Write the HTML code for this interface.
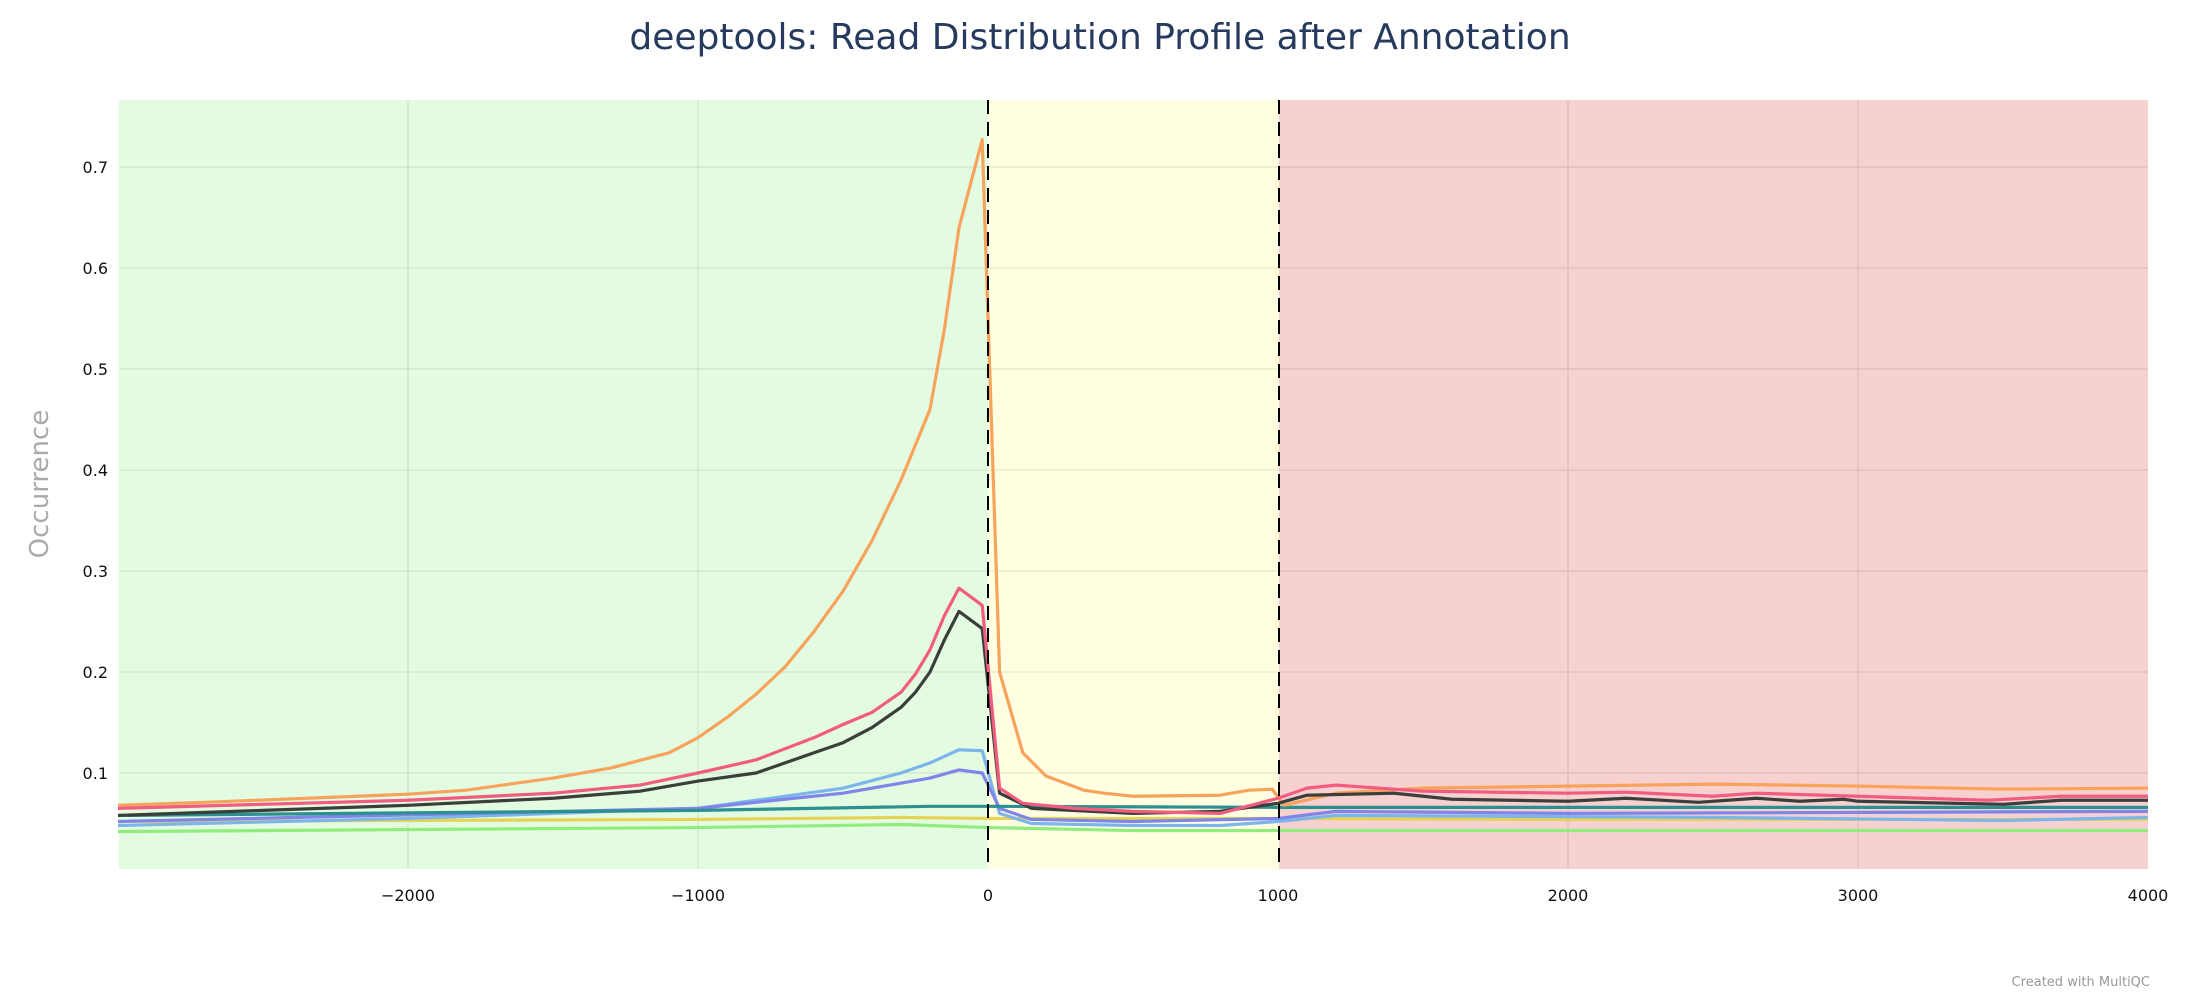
<!DOCTYPE html>
<html><head><meta charset="utf-8"><style>
html,body{margin:0;padding:0;background:#fff;}
svg{display:block;font-family:"DejaVu Sans","Liberation Sans",sans-serif;}
</style></head><body>
<svg width="2200" height="1000" viewBox="0 0 2200 1000" xmlns="http://www.w3.org/2000/svg">
<rect x="0" y="0" width="2200" height="1000" fill="#fff"/>
<text x="1100" y="49" text-anchor="middle" font-size="36" fill="#253a5c">deeptools: Read Distribution Profile after Annotation</text>
<rect x="119" y="100" width="869" height="769" fill="#e3fbe0"/>
<rect x="988" y="100" width="291" height="769" fill="#fffee0"/>
<rect x="1279" y="100" width="869" height="769" fill="#f7d0d0"/>
<g stroke="#000" stroke-opacity="0.07" stroke-width="1.5">
<line x1="119" x2="2148" y1="167" y2="167"/><line x1="119" x2="2148" y1="268" y2="268"/>
<line x1="119" x2="2148" y1="369" y2="369"/><line x1="119" x2="2148" y1="470" y2="470"/>
<line x1="119" x2="2148" y1="571" y2="571"/><line x1="119" x2="2148" y1="672" y2="672"/>
<line x1="119" x2="2148" y1="773" y2="773"/>
<line x1="408" x2="408" y1="100" y2="869"/><line x1="698" x2="698" y1="100" y2="869"/>
<line x1="1568" x2="1568" y1="100" y2="869"/><line x1="1858" x2="1858" y1="100" y2="869"/>
</g>
<g font-size="16" fill="#111" text-anchor="end">
<text x="108" y="173">0.7</text><text x="108" y="274">0.6</text><text x="108" y="375">0.5</text>
<text x="108" y="476">0.4</text><text x="108" y="577">0.3</text><text x="108" y="678">0.2</text><text x="108" y="779">0.1</text>
</g>
<g font-size="16" fill="#111" text-anchor="middle">
<text x="408" y="901">−2000</text><text x="698" y="901">−1000</text><text x="988" y="901">0</text>
<text x="1278" y="901">1000</text><text x="1568" y="901">2000</text><text x="1858" y="901">3000</text><text x="2148" y="901">4000</text>
</g>
<text transform="translate(48,484) rotate(-90)" text-anchor="middle" font-size="26" fill="#aaa">Occurrence</text>
<text x="2150" y="986" text-anchor="end" font-size="13" fill="#999">Created with MultiQC</text>
<g transform="translate(988,874) scale(0.29,-1010)" fill="none" stroke-width="3.2" stroke-linejoin="round">
<polyline vector-effect="non-scaling-stroke" stroke="#90ed7d" points="-3000,0.042 -1000,0.046 -300,0.049 0,0.046 500,0.043 4000,0.043"/>
<polyline vector-effect="non-scaling-stroke" stroke="#e4d354" points="-3000,0.052 -1000,0.054 -300,0.056 0,0.055 500,0.055 1000,0.055 2000,0.054 4000,0.054"/>
<polyline vector-effect="non-scaling-stroke" stroke="#7cb5ec" points="-3000,0.048 -2000,0.055 -1000,0.065 -500,0.085 -300,0.1 -200,0.11 -100,0.123 -20,0.122 40,0.06 150,0.05 500,0.048 800,0.048 1000,0.052 1200,0.058 2500,0.056 3500,0.053 4000,0.056"/>
<polyline vector-effect="non-scaling-stroke" stroke="#8085e9" points="-3000,0.052 -1000,0.065 -500,0.08 -200,0.095 -100,0.103 -20,0.1 40,0.065 150,0.054 500,0.052 1000,0.055 1200,0.062 2000,0.06 4000,0.062"/>
<polyline vector-effect="non-scaling-stroke" stroke="#2b908f" points="-3000,0.058 -1000,0.063 -200,0.067 0,0.067 1000,0.066 4000,0.066"/>
<polyline vector-effect="non-scaling-stroke" stroke="#f7a35c" points="-3000,0.068 -2700,0.071 -2000,0.079 -1800,0.083 -1500,0.095 -1300,0.105 -1100,0.12 -1000,0.135 -900,0.155 -800,0.178 -700,0.205 -600,0.24 -500,0.28 -400,0.33 -300,0.39 -200,0.46 -150,0.54 -100,0.64 -20,0.727 40,0.2 120,0.12 200,0.097 330,0.083 400,0.08 500,0.077 800,0.078 900,0.083 980,0.084 1020,0.068 1200,0.08 1500,0.085 2000,0.087 2500,0.089 3000,0.087 3500,0.084 4000,0.085"/>
<polyline vector-effect="non-scaling-stroke" stroke="#3b3f3c" points="-3000,0.058 -2500,0.063 -2000,0.068 -1500,0.075 -1200,0.082 -1000,0.092 -800,0.1 -600,0.12 -500,0.13 -400,0.145 -300,0.165 -250,0.18 -200,0.2 -150,0.232 -100,0.26 -20,0.243 40,0.08 150,0.065 500,0.06 800,0.062 1000,0.07 1100,0.078 1400,0.08 1600,0.074 2000,0.072 2200,0.075 2450,0.071 2650,0.075 2800,0.072 2950,0.074 3000,0.072 3500,0.069 3700,0.073 4000,0.073"/>
<polyline vector-effect="non-scaling-stroke" stroke="#f15c80" points="-3000,0.065 -2000,0.073 -1500,0.08 -1200,0.088 -1000,0.1 -800,0.113 -600,0.135 -500,0.148 -400,0.16 -300,0.18 -250,0.198 -200,0.222 -150,0.256 -100,0.283 -20,0.266 40,0.085 120,0.07 300,0.065 500,0.062 800,0.06 1000,0.075 1100,0.085 1200,0.088 1500,0.082 2000,0.08 2200,0.081 2500,0.077 2650,0.08 3000,0.077 3450,0.073 3700,0.077 4000,0.077"/>
</g>
<g stroke="#000" stroke-width="2" stroke-dasharray="14,8">
<line x1="988" x2="988" y1="100" y2="869"/><line x1="1279" x2="1279" y1="100" y2="869"/>
</g>
</svg>
</body></html>
